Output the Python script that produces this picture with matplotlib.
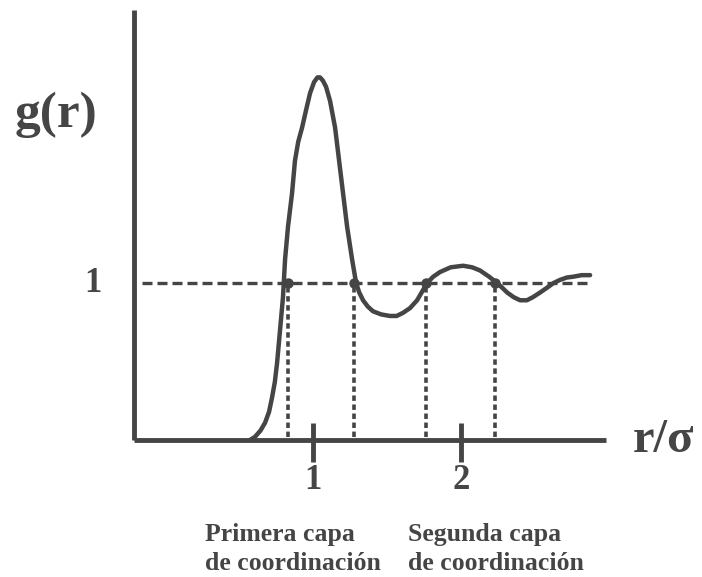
import matplotlib.pyplot as plt

# curva g(r) (r en unidades de sigma)
r_vals = [0.574, 0.608, 0.645, 0.676, 0.703, 0.723, 0.742, 0.757, 0.777, 0.797,
          0.811, 0.831, 0.858, 0.878, 0.900, 0.926, 0.955, 0.980, 1.007, 1.030,
          1.047, 1.066, 1.088, 1.115, 1.149, 1.176, 1.203, 1.230, 1.264, 1.291,
          1.312, 1.338, 1.370, 1.405, 1.460, 1.520, 1.565, 1.608, 1.655, 1.703,
          1.740, 1.770, 1.812, 1.858, 1.930, 2.014, 2.075, 2.128, 2.190, 2.243,
          2.278, 2.311, 2.355, 2.399, 2.445, 2.486, 2.535, 2.581, 2.625, 2.669,
          2.715, 2.757, 2.815, 2.872]
g_vals = [0.00, 0.02, 0.06, 0.11, 0.18, 0.27, 0.37, 0.49, 0.70, 0.91,
          1.15, 1.36, 1.57, 1.78, 1.90, 1.99, 2.11, 2.21, 2.28, 2.31,
          2.31, 2.29, 2.25, 2.16, 1.99, 1.78, 1.57, 1.36, 1.15, 1.00,
          0.94, 0.89, 0.85, 0.82, 0.80, 0.79, 0.79, 0.81, 0.84, 0.89,
          0.95, 1.00, 1.04, 1.07, 1.10, 1.11, 1.10, 1.08, 1.04, 1.00,
          0.97, 0.94, 0.91, 0.89, 0.89, 0.91, 0.94, 0.97, 1.00, 1.02,
          1.035, 1.04, 1.05, 1.05]

# cruces con g(r) = 1
crossings = [0.831, 1.277, 1.764, 2.230]

xticks = [1, 2]
xtick_labels = ['1', '2']
shell_labels = ['Primera capa\nde coordinación', 'Segunda capa\nde coordinación']

color = '#454545'
serif = 'Liberation Serif'

fig = plt.figure(figsize=(7.02, 5.77), dpi=100)
ax = fig.add_axes([0, 0, 1, 1])
ax.set_xlim(-1.115, 3.628)
ax.set_ylim(-0.873, 2.803)
ax.axis('off')

# ejes
ax.plot([-0.21, 2.98], [0, 0], color=color, lw=3.5, solid_capstyle='butt')
ax.plot([-0.21, -0.21], [0, 2.74], color=color, lw=3.5, solid_capstyle='butt')
for t in xticks:
    ax.plot([t, t], [-0.14, 0.11], color=color, lw=3.5, solid_capstyle='butt')

# linea g = 1 y verticales
ax.plot([-0.155, 2.872], [1, 1], color=color, lw=2.4, ls=(0, (3, 1.5)))
for c in crossings:
    ax.plot([c, c], [0.02, 1], color=color, lw=2.6, ls=(0, (1.5, 1.0)))
ax.plot(crossings, [1] * len(crossings), 'o', color=color, ms=6.5)

# curva
ax.plot(r_vals, g_vals, color=color, lw=3.2, solid_joinstyle='round',
        solid_capstyle='round')

# textos
ax.text(-0.736, 2.07, 'g(r)', fontsize=37, fontweight='bold', family=serif,
        color=color, ha='center', va='center')
ax.text(-0.49, 1.0, '1', fontsize=25, fontweight='bold', family=serif,
        color=color, ha='center', va='center')
ax.text(3.365, 0.0, 'r/σ', fontsize=35, fontweight='bold', family=serif,
        color=color, ha='center', va='center')
for t, lab in zip(xticks, xtick_labels):
    ax.text(t, -0.26, lab, fontsize=25, fontweight='bold', family=serif,
            color=color, ha='center', va='center')
for x0, lab in zip([0.270, 1.642], shell_labels):
    ax.text(x0, -0.53, lab, fontsize=18.5, fontweight='bold', family=serif,
            color=color, ha='left', va='top', linespacing=1.3)

fig.savefig('out.png', dpi=100)
